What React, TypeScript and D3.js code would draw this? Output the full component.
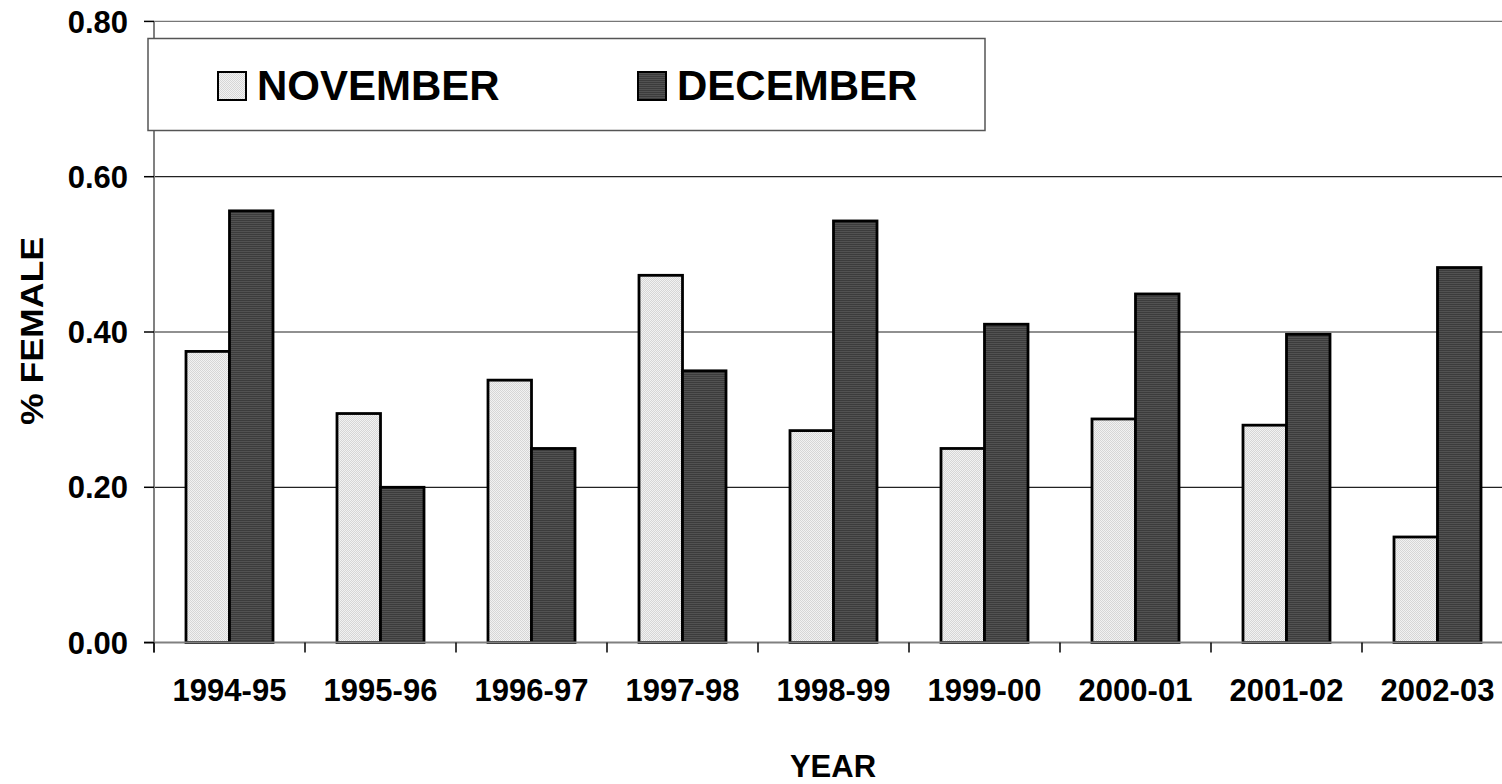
import React from "react";
import * as d3 from "d3";

// Share of females by season, November vs December counts
const years = ["1994-95", "1995-96", "1996-97", "1997-98", "1998-99", "1999-00", "2000-01", "2001-02", "2002-03"];
const november = [0.375, 0.295, 0.338, 0.473, 0.273, 0.25, 0.288, 0.28, 0.136];
const december = [0.556, 0.2, 0.25, 0.35, 0.543, 0.41, 0.449, 0.397, 0.483];
const seriesNames = ["NOVEMBER", "DECEMBER"];
const yTicks = [0, 0.2, 0.4, 0.6, 0.8];

const W = 1502;
const H = 784;
const left = 154;
const step = 151;
const right = left + step * years.length;
const font = "'Liberation Sans', Arial, Helvetica, sans-serif";

export default function App() {
  const x0 = d3
    .scaleBand<string>()
    .domain(years)
    .range([left, right])
    .paddingInner(64 / 151)
    .paddingOuter(32 / 151);
  const x1 = d3.scaleBand<string>().domain(seriesNames).range([0, x0.bandwidth()]);
  const y = d3.scaleLinear().domain([0, 0.8]).range([642.6, 21.4]);
  const fills = ["url(#novFill)", "url(#decFill)"];
  const values = [november, december];
  const fmt = d3.format(".2f");
  const base = y(0);

  return (
    <svg
      width={W}
      height={H}
      style={{ position: "absolute", left: 0, top: 0, background: "#fff" }}
      fontFamily={font}
      fontWeight="bold"
    >
      <defs>
        <pattern id="novFill" width="2" height="2" patternUnits="userSpaceOnUse">
          <rect width="2" height="2" fill="#f2f2f2" />
          <rect width="1" height="1" fill="#d6d6d6" />
          <rect x="1" y="1" width="1" height="1" fill="#d6d6d6" />
        </pattern>
        <pattern id="decFill" width="2" height="2" patternUnits="userSpaceOnUse">
          <rect width="2" height="2" fill="#3c3c3c" />
          <rect y="1" width="2" height="1" fill="#525252" />
        </pattern>
      </defs>

      {/* horizontal gridlines */}
      {yTicks.slice(1).map((t) => (
        <line key={t} x1={left} x2={right} y1={y(t)} y2={y(t)} stroke={t === 0.8 ? "#777" : "#222"} strokeWidth={1.2} />
      ))}

      {/* bars */}
      {years.map((yr, i) => (
        <g key={yr} transform={`translate(${x0(yr)},0)`}>
          {seriesNames.map((s, j) => (
            <rect
              key={s}
              x={x1(s)}
              y={y(values[j][i])}
              width={x1.bandwidth()}
              height={base - y(values[j][i])}
              fill={fills[j]}
              stroke="#000"
              strokeWidth={2.8}
            />
          ))}
        </g>
      ))}

      {/* axes */}
      <line x1={left} x2={left} y1={y(0.8)} y2={base + 10} stroke="#808080" strokeWidth={2} />
      <line x1={left - 10} x2={right} y1={base} y2={base} stroke="#808080" strokeWidth={2} />
      {yTicks.map((t) => (
        <g key={t}>
          <line x1={left - 10} x2={left} y1={y(t)} y2={y(t)} stroke="#000" strokeWidth={1.5} />
          <text x={128} y={y(t)} dy="0.36em" textAnchor="end" fontSize={31}>
            {fmt(t)}
          </text>
        </g>
      ))}
      {d3.range(years.length + 1).map((k) => (
        <line key={k} x1={left + k * step} x2={left + k * step} y1={base} y2={base + 10} stroke="#000" strokeWidth={1.5} />
      ))}
      {years.map((yr) => (
        <text key={yr} x={(x0(yr) ?? 0) + x0.bandwidth() / 2} y={701} textAnchor="middle" fontSize={31}>
          {yr}
        </text>
      ))}

      {/* axis titles */}
      <text x={833} y={777} textAnchor="middle" fontSize={31}>
        YEAR
      </text>
      <text
        transform="translate(43,331) rotate(-90)"
        textAnchor="middle"
        fontSize={31}
        textLength={188}
        lengthAdjust="spacingAndGlyphs"
      >
        % FEMALE
      </text>

      {/* legend */}
      <rect x={148} y={38.5} width={837} height={92} fill="#fff" stroke="#555" strokeWidth={1.5} />
      {seriesNames.map((s, j) => {
        const sx = [218, 638][j];
        return (
          <g key={s}>
            <rect x={sx} y={72} width={28} height={28} fill={fills[j]} stroke="#000" strokeWidth={2} />
            <text x={sx + 39} y={100} fontSize={42}>
              {s}
            </text>
          </g>
        );
      })}
    </svg>
  );
}
